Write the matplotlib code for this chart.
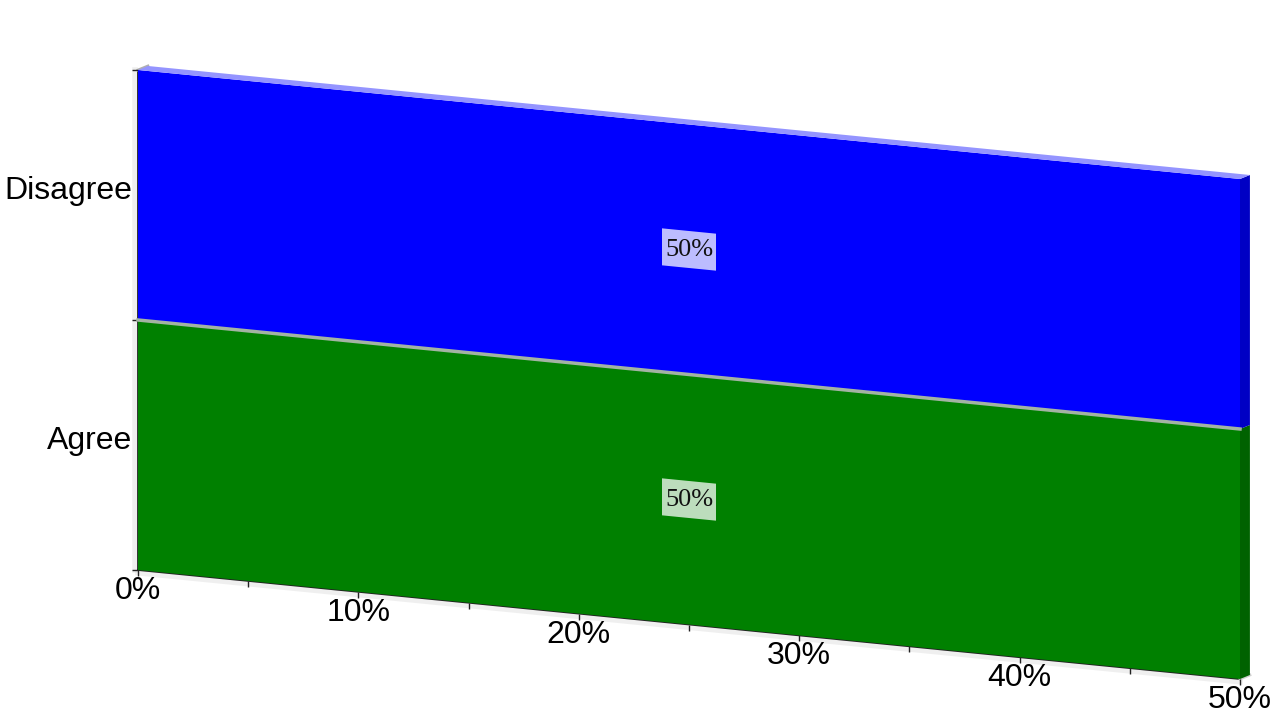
"""
Pseudo-3D skewed horizontal bar chart: Agree vs Disagree share.
"""

import numpy as np
import matplotlib
matplotlib.use("Agg")
import matplotlib.pyplot as plt
import matplotlib.patheffects as pe
from matplotlib.patches import Polygon, Rectangle
from matplotlib.transforms import Affine2D

categories = ["Agree", "Disagree"]
values = [50, 50]
bar_labels = ["50%", "50%"]
xticks = [0, 10, 20, 30, 40, 50]
xtick_labels = ["0%", "10%", "20%", "30%", "40%", "50%"]

FRONT = ["#008000", "#0000ff"]
SIDE = ["#006200", "#0000c4"]
TOP = ["#a0c8a0", "#9494ff"]

SHEAR = 0.00872      # vertical drop (y units) per x unit
DX, DY = 0.45, 0.02  # depth of the boxes in data units

plt.rcParams["font.family"] = ["Liberation Sans", "DejaVu Sans"]

fig = plt.figure(figsize=(12.8, 7.2), dpi=100)
ax = fig.add_axes([138 / 1280, 150 / 720, 1102 / 1280, 500 / 720])
ax.axis("off")

skew = Affine2D(np.array([[1, 0, 0], [-SHEAR, 1, 0], [0, 0, 1]])) + ax.transData

ypos = np.arange(len(categories)) + 0.5

# axis shadows + lines
shadow_l = [pe.SimpleLineShadow(offset=(-2, 0), shadow_color="gray", alpha=0.12, linewidth=4), pe.Normal()]
shadow_b = [pe.SimpleLineShadow(offset=(0, -2), shadow_color="gray", alpha=0.12, linewidth=4), pe.Normal()]
ax.plot([0, 0], [0, len(categories)], transform=skew, color="#222222", lw=1.3,
        clip_on=False, path_effects=shadow_l, zorder=1)
ax.plot([0, xticks[-1]], [0, 0], transform=skew, color="#222222", lw=1.3,
        clip_on=False, path_effects=shadow_b, zorder=1)
ax.plot([0, DX], [len(categories), len(categories) + DY], transform=skew,
        color="#b0b0b0", lw=2, clip_on=False, zorder=1)
ax.plot([xticks[-1], xticks[-1] + DX], [0, DY], transform=skew,
        color="#d0d0d0", lw=2, clip_on=False, zorder=1)

# ticks
minor = np.arange(xticks[0], xticks[-1] + 1, 5)
ax.plot(minor, np.zeros_like(minor), ls="none", marker=3, ms=4, mew=1,
        color="#222222", transform=skew, clip_on=False, zorder=1)
ax.plot(np.zeros(len(categories) + 1), np.arange(len(categories) + 1), ls="none",
        marker=0, ms=4, mew=1, color="#222222", transform=skew, clip_on=False, zorder=1)

# bars
bars = ax.barh(ypos, values, height=1.0, left=0, color=FRONT, transform=skew,
               clip_on=False, zorder=2)

for i, (y, w) in enumerate(zip(ypos, values)):
    y0, y1 = y - 0.5, y + 0.5
    ax.add_patch(Polygon([(w, y0), (w, y1), (w + DX, y1 + DY), (w + DX, y0 + DY)],
                         closed=True, facecolor=SIDE[i], edgecolor="none",
                         transform=skew, clip_on=False, zorder=2))
    if i == len(values) - 1:
        ax.add_patch(Polygon([(0, y1), (w, y1), (w + DX, y1 + DY), (DX, y1 + DY)],
                             closed=True, facecolor=TOP[i], edgecolor="none",
                             transform=skew, clip_on=False, zorder=2))
    else:
        ax.plot([0, w], [y1, y1], transform=skew, color="#a3b3a3", lw=2.5,
                clip_on=False, zorder=3)

# value labels
bw, bh = 2.45, 0.148
for y, w, lbl in zip(ypos, values, bar_labels):
    ax.add_patch(Rectangle((w / 2 - bw / 2, y - bh / 2), bw, bh, transform=skew,
                           facecolor="white", alpha=0.74, edgecolor="none",
                           clip_on=False, zorder=4))
    ax.annotate(lbl, xy=(w / 2, y), xycoords=skew, ha="center", va="center",
                fontsize=19, family=["Liberation Serif", "DejaVu Serif"],
                color="#111111", zorder=5)

# tick labels
for t, lbl in zip(xticks, xtick_labels):
    ax.annotate(lbl, xy=(t, 0), xycoords=skew, xytext=(0, -6),
                textcoords="offset pixels", ha="center", va="top", fontsize=23)
for y, cat in zip(ypos, categories):
    ax.annotate(cat, xy=(0, y), xycoords=skew, xytext=(-6, 4),
                textcoords="offset pixels", ha="right", va="center", fontsize=23)

ax.set_xlim(0, xticks[-1])
ax.set_ylim(0, len(categories))

fig.savefig("out.png", dpi=100)
